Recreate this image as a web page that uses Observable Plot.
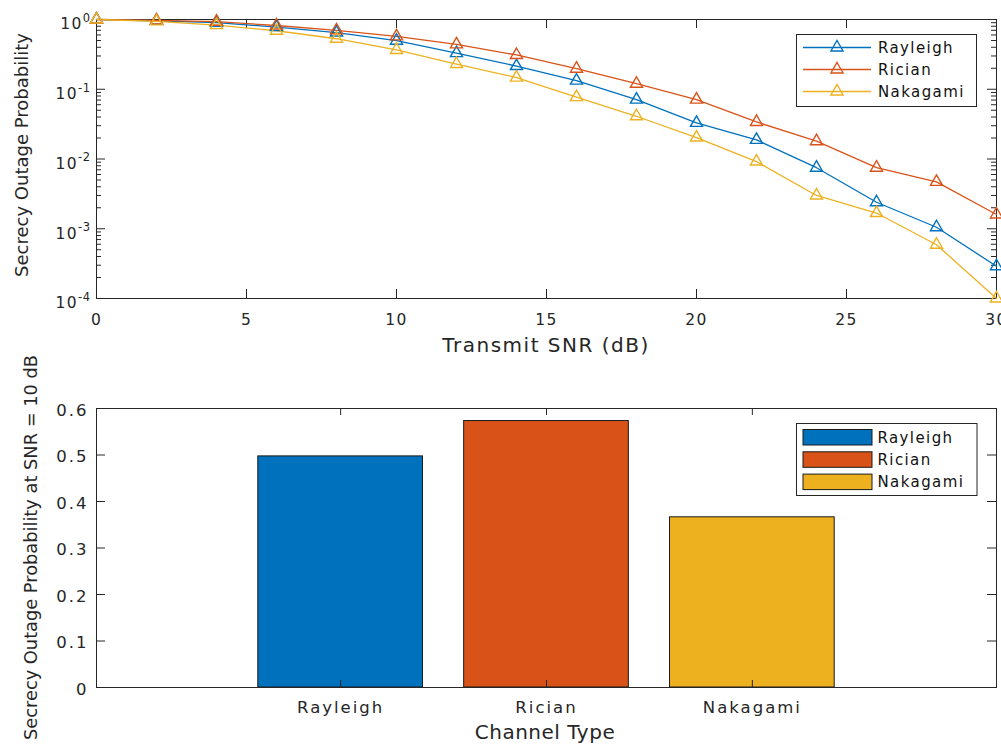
<!DOCTYPE html>
<html><head><meta charset="utf-8">
<script src="https://cdn.jsdelivr.net/npm/d3@7"></script>
<script src="https://cdn.jsdelivr.net/npm/@observablehq/plot@0.6"></script>
<style>
body{margin:0;background:#fff;}
#wrap{position:relative;width:1001px;height:744px;overflow:hidden;background:#fff;}
#wrap > svg{position:absolute;left:0;margin:0;}
</style></head><body><div id="wrap"></div>
<script>
// ---------- data ----------
const snr = [0,2,4,6,8,10,12,14,16,18,20,22,24,26,28,30];
const seriesNames = ["Rayleigh","Rician","Nakagami"];
const rayleigh = [1.0,0.96,0.90,0.78,0.65,0.497,0.33,0.215,0.133,0.071,0.033,0.0188,0.0075,0.0024,0.00105,0.00029];
const rician   = [1.0,0.97,0.93,0.82,0.70,0.573,0.44,0.31,0.197,0.12,0.071,0.034,0.018,0.0075,0.0047,0.0016];
const nakagami = [1.0,0.94,0.83,0.69,0.53,0.366,0.23,0.147,0.077,0.041,0.0203,0.0092,0.003,0.00168,0.00059,0.0001];
const seriesColors = ["#0072BD","#D95319","#EDB120"];
const snrTicks = [0,5,10,15,20,25,30];
const logTicks = [1e-4,1e-3,1e-2,1e-1,1];
const barCategories = ["Rayleigh","Rician","Nakagami"];
const barValues = [0.497,0.573,0.366];
const barTicks = [0,0.1,0.2,0.3,0.4,0.5,0.6];

const ink = "#262626";
const font = "'DejaVu Sans', 'Liberation Sans', sans-serif";
const minorTicks = [];
for (let k = -4; k <= -1; k++) for (let m = 2; m <= 9; m++) minorTicks.push(m * Math.pow(10, k));

const seriesValues = [rayleigh, rician, nakagami];
const lineData = seriesNames.flatMap((name, si) => snr.map((x, i) => ({series: name, snr: x, p: seriesValues[si][i]})));
const barData = barCategories.map((c, i) => ({name: c, value: barValues[i]}));

const wrap = document.getElementById("wrap");

// ---------- top: line chart ----------
const topH = 339, topMT = 19, topMB = 41, frameW = 900;
const topFrameH = topH - topMT - topMB;
const topPlot = Plot.plot({
  width: 1001, height: topH, marginLeft: 96, marginRight: 5, marginTop: topMT, marginBottom: topMB,
  style: {fontFamily: font, fontSize: "15.5px", letterSpacing: "1.4px", color: ink, background: "transparent", overflow: "visible"},
  x: {domain: [0, 30], label: null},
  y: {type: "log", domain: [1e-4, 1], label: null},
  color: {domain: seriesNames, range: seriesColors},
  marks: [
    Plot.axisX({ticks: snrTicks, tickSize: 0, tickPadding: 15, tickFormat: d => String(d)}),
    Plot.axisY({ticks: logTicks, tickSize: 0, tickPadding: 6, dy: 5, tickFormat: d => "10^" + Math.round(Math.log10(d))}),
    Plot.tickX(snrTicks, {x: d => d, insetTop: topFrameH - 9, stroke: ink}),
    Plot.tickX(snrTicks, {x: d => d, insetBottom: topFrameH - 9, stroke: ink}),
    Plot.tickY(logTicks, {y: d => d, insetRight: frameW - 9, stroke: ink}),
    Plot.tickY(logTicks, {y: d => d, insetLeft: frameW - 9, stroke: ink}),
    Plot.tickY(minorTicks, {y: d => d, insetRight: frameW - 5, stroke: ink}),
    Plot.tickY(minorTicks, {y: d => d, insetLeft: frameW - 5, stroke: ink}),
    Plot.frame({stroke: ink}),
    Plot.line(lineData, {x: "snr", y: "p", z: "series", stroke: "series", strokeWidth: 1.3}),
    Plot.dot(lineData, {x: "snr", y: "p", stroke: "series", symbol: "triangle", r: 4.5, strokeWidth: 1.4, fill: "none"})
  ]
});
topPlot.style.top = "0px";
wrap.appendChild(topPlot);

// superscripts for log tick labels
const NS = "http://www.w3.org/2000/svg";
topPlot.querySelectorAll("text").forEach(t => {
  const s = t.textContent;
  if (!s.includes("^")) return;
  const [b, e] = s.split("^");
  t.textContent = "";
  const t1 = document.createElementNS(NS, "tspan"); t1.textContent = b; t.appendChild(t1);
  const t2 = document.createElementNS(NS, "tspan");
  t2.setAttribute("dy", "-7.5"); t2.setAttribute("font-size", "11.5px");
  t2.style.letterSpacing = "0.5px";
  t2.textContent = e; t.appendChild(t2);
});

// ---------- bottom: bar chart ----------
const botH = 347, botMT = 28, botMB = 40;
const botFrameH = botH - botMT - botMB;
const botPlot = Plot.plot({
  width: 1001, height: botH, marginLeft: 96, marginRight: 5, marginTop: botMT, marginBottom: botMB,
  style: {fontFamily: font, fontSize: "16.5px", letterSpacing: "2px", color: ink, background: "transparent", overflow: "visible"},
  x: {domain: barCategories, paddingInner: 0.2, paddingOuter: 0.786, round: false, label: null},
  y: {domain: [0, 0.6], label: null},
  color: {domain: barCategories, range: seriesColors},
  marks: [
    Plot.barY(barData, {x: "name", y: "value", fill: "name", stroke: "#1a1a1a", strokeWidth: 1}),
    Plot.axisX({tickSize: 0, tickPadding: 14}),
    Plot.axisY({ticks: barTicks, tickSize: 0, tickPadding: 8, dy: 2, tickFormat: d => d === 0 ? "0" : d.toFixed(1)}),
    Plot.tickX(barCategories, {x: d => d, insetTop: botFrameH - 7, stroke: ink}),
    Plot.tickX(barCategories, {x: d => d, insetBottom: botFrameH - 7, stroke: ink}),
    Plot.tickY(barTicks, {y: d => d, insetRight: frameW - 9, stroke: ink}),
    Plot.tickY(barTicks, {y: d => d, insetLeft: frameW - 9, stroke: ink}),
    Plot.frame({stroke: ink})
  ]
});
botPlot.style.top = "380px";
wrap.appendChild(botPlot);

// ---------- overlay: axis titles and legends ----------
const ov = d3.create("svg").attr("width", 1001).attr("height", 744)
  .style("position", "absolute").style("top", "0px").style("left", "0px").style("pointer-events", "none")
  .attr("font-family", font).attr("fill", ink);

ov.append("text").attr("transform", "translate(27.5,155) rotate(-90)").attr("text-anchor", "middle")
  .attr("font-size", "18px").text("Secrecy Outage Probability");
ov.append("text").attr("transform", "translate(37.4,547.5) rotate(-90)").attr("text-anchor", "middle")
  .attr("font-size", "17.8px").text("Secrecy Outage Probability at SNR = 10 dB");
ov.append("text").attr("x", 546).attr("y", 351.7).attr("text-anchor", "middle")
  .attr("font-size", "20px").style("letter-spacing", "1.5px").text("Transmit SNR (dB)");
ov.append("text").attr("x", 545).attr("y", 738.8).attr("text-anchor", "middle")
  .attr("font-size", "20px").style("letter-spacing", "0.5px").text("Channel Type");

// top legend
const lg1 = ov.append("g");
lg1.append("rect").attr("x", 796.5).attr("y", 34.5).attr("width", 180).attr("height", 72)
  .attr("fill", "white").attr("stroke", ink).attr("stroke-width", 1);
const tri = d3.symbol(d3.symbolTriangle, Math.PI * 4.5 * 4.5)();
seriesNames.forEach((name, i) => {
  const y = 47.5 + 22 * i;
  lg1.append("line").attr("x1", 803).attr("x2", 871).attr("y1", y).attr("y2", y)
    .attr("stroke", seriesColors[i]).attr("stroke-width", 1.3);
  lg1.append("path").attr("d", tri).attr("transform", `translate(837,${y})`)
    .attr("fill", "none").attr("stroke", seriesColors[i]).attr("stroke-width", 1.4);
  lg1.append("text").attr("x", 878).attr("y", y).attr("dy", "0.35em").attr("font-size", "15px")
    .style("letter-spacing", "1.4px").attr("fill", "#111").text(name);
});

// bottom legend
const lg2 = ov.append("g");
lg2.append("rect").attr("x", 796.5).attr("y", 423.5).attr("width", 180.5).attr("height", 72)
  .attr("fill", "white").attr("stroke", ink).attr("stroke-width", 1);
barCategories.forEach((name, i) => {
  lg2.append("rect").attr("x", 803).attr("y", 429.5 + 22.3 * i).attr("width", 69).attr("height", 15.5)
    .attr("fill", seriesColors[i]).attr("stroke", "#1a1a1a").attr("stroke-width", 1);
  lg2.append("text").attr("x", 877.5).attr("y", 438 + 22 * i).attr("dy", "0.35em").attr("font-size", "15px")
    .style("letter-spacing", "1.4px").attr("fill", "#111").text(name);
});

wrap.appendChild(ov.node());
</script>
</body></html>
